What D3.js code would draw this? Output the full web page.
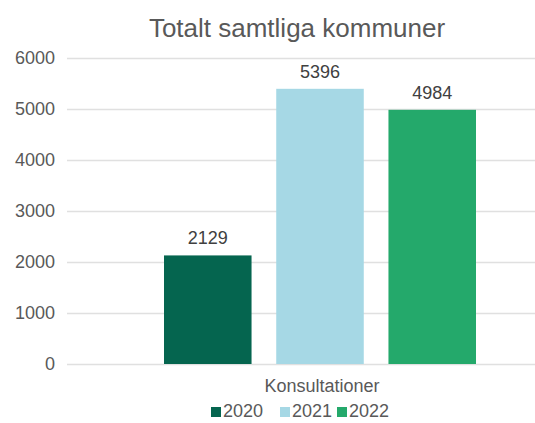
<!DOCTYPE html>
<html><head><meta charset="utf-8">
<script src="https://cdn.jsdelivr.net/npm/d3@7"></script>
<style>body{margin:0;background:#fff}svg{display:block;font-family:"Liberation Sans",Arial,sans-serif}</style>
</head><body><svg id="c" width="535" height="423"></svg>
<script>
const categories = ["Konsultationer"];
const series = ["2020", "2021", "2022"];
const values = [2129, 5396, 4984];
const yTicks = [0, 1000, 2000, 3000, 4000, 5000, 6000];
const colors = ["#05654F", "#A6D8E5", "#24A96B"];
const title = "Totalt samtliga kommuner";

const svg = d3.select("#c");
const y = d3.scaleLinear().domain([0, 6000]).range([364, 58]);
const x0 = d3.scaleBand().domain(categories).range([67, 577]);
const x1 = d3.scaleBand().domain(series).range([164, 476]).paddingInner(0.22);

svg.append("text").attr("x", 297).attr("y", 37).attr("text-anchor", "middle")
  .attr("font-size", 26).attr("fill", "#595959").text(title);

const yAxis = d3.axisLeft(y).tickValues(yTicks).tickSize(-(535 - 67)).tickFormat(d3.format("d"));
const g = svg.append("g").attr("transform", "translate(67,0)").call(yAxis);
g.select(".domain").remove();
g.selectAll(".tick line").attr("stroke", "#e0e0e0").attr("stroke-width", 1.3);
g.selectAll(".tick text").attr("x", -12).attr("font-size", 18).attr("fill", "#595959")
  .attr("font-family", "Liberation Sans, Arial, sans-serif");

svg.selectAll("rect.bar").data(values).join("rect").attr("class", "bar")
  .attr("x", (d, i) => x1(series[i])).attr("width", x1.bandwidth())
  .attr("y", d => y(d)).attr("height", d => y(0) - y(d))
  .attr("fill", (d, i) => colors[i]);

svg.selectAll("text.lbl").data(values).join("text").attr("class", "lbl")
  .attr("x", (d, i) => x1(series[i]) + x1.bandwidth() / 2).attr("y", d => y(d) - 11)
  .attr("text-anchor", "middle").attr("font-size", 18).attr("fill", "#404040").text(d => d);

svg.append("text").attr("x", x0(categories[0]) + x0.bandwidth() / 2).attr("y", 392)
  .attr("text-anchor", "middle").attr("font-size", 18).attr("fill", "#595959").text(categories[0]);

const lx = [211, 280, 337];
const lg = svg.append("g");
series.forEach((s, i) => {
  lg.append("rect").attr("x", lx[i]).attr("y", 407).attr("width", 10).attr("height", 10).attr("fill", colors[i]);
  lg.append("text").attr("x", lx[i] + 12).attr("y", 417).attr("font-size", 18).attr("fill", "#595959").text(s);
});
</script></body></html>
